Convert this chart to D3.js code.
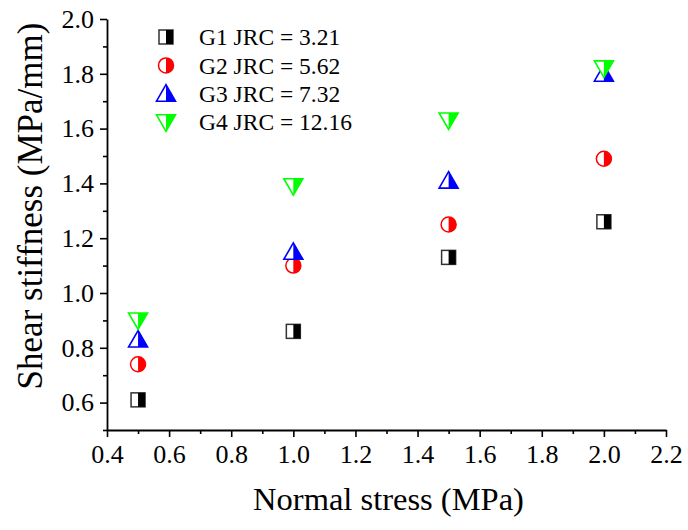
<!DOCTYPE html>
<html>
<head>
<meta charset="utf-8">
<script src="https://cdn.jsdelivr.net/npm/d3@7"></script>
<style>
  html, body { margin: 0; padding: 0; background: #fff; }
  svg { display: block; }
</style>
</head>
<body>
<svg id="chart" width="688" height="530"></svg>
<script>
// Normal stress levels (MPa)
const normalStress = [0.5, 1.0, 1.5, 2.0];

// Shear stiffness (MPa/mm) for each joint group
const seriesNames = ["G1 JRC = 3.21", "G2 JRC = 5.62", "G3 JRC = 7.32", "G4 JRC = 12.16"];
const g1 = [0.61, 0.86, 1.13, 1.26];
const g2 = [0.74, 1.10, 1.25, 1.49];
const g3 = [0.83, 1.15, 1.41, 1.80];
const g4 = [0.90, 1.39, 1.63, 1.82];

const seriesColors = ["#000000", "#ff0000", "#0000ff", "#00ff00"];
const seriesShapes = ["square", "circle", "triangleUp", "triangleDown"];

const xTicks = [0.4, 0.6, 0.8, 1.0, 1.2, 1.4, 1.6, 1.8, 2.0, 2.2];
const yTicks = [0.6, 0.8, 1.0, 1.2, 1.4, 1.6, 1.8, 2.0];

const FONT = "'Liberation Serif', serif";

const svg = d3.select("#chart");
const plotLeft = 107, plotRight = 666, plotTop = 19, plotBottom = 430;

const x = d3.scaleLinear().domain([0.4, 2.2]).range([plotLeft, plotRight]);
const y = d3.scaleLinear().domain([0.5, 2.0]).range([plotBottom, plotTop]);

// Minor ticks every 0.1
const xMinor = d3.range(0.5, 2.2, 0.2);
const yMinor = d3.range(0.5, 2.0, 0.2);

const xAxis = svg.append("g").attr("transform", `translate(0,${plotBottom})`);
xAxis.call(d3.axisBottom(x).tickValues(xMinor).tickSize(4).tickFormat(""));
xAxis.call(g => g.select(".domain").remove());
const xMajor = svg.append("g").attr("transform", `translate(0,${plotBottom})`)
  .call(d3.axisBottom(x).tickValues(xTicks).tickSize(7).tickSizeOuter(0).tickPadding(8)
    .tickFormat(d3.format(".1f")));
xMajor.attr("font-family", FONT).attr("font-size", 26);
xMajor.selectAll("text").style("font-family", FONT).style("font-size", "26px").attr("dy", "0.71em");

const yAxis = svg.append("g").attr("transform", `translate(${plotLeft},0)`);
yAxis.call(d3.axisLeft(y).tickValues(yMinor).tickSize(4).tickFormat(""));
yAxis.call(g => g.select(".domain").remove());
const yMajor = svg.append("g").attr("transform", `translate(${plotLeft},0)`)
  .call(d3.axisLeft(y).tickValues(yTicks).tickSize(7).tickSizeOuter(0).tickPadding(6)
    .tickFormat(d3.format(".1f")));
yMajor.attr("font-family", FONT).attr("font-size", 26);
yMajor.selectAll("text").style("font-family", FONT).style("font-size", "26px");

svg.selectAll(".domain, .tick line").attr("stroke", "#000").attr("stroke-width", 1.6);
svg.selectAll(".domain").attr("stroke-width", 1.8);

// Axis titles
svg.append("text")
  .attr("x", (plotLeft + plotRight) / 2 + 2)
  .attr("y", 510)
  .attr("text-anchor", "middle")
  .style("font-family", FONT)
  .style("font-size", "32.5px")
  .text("Normal stress (MPa)");

svg.append("text")
  .attr("transform", `translate(42,206) rotate(-90)`)
  .attr("text-anchor", "middle")
  .style("font-family", FONT)
  .style("font-size", "35px")
  .text("Shear stiffness (MPa/mm)");

// Half-filled marker: outline with white left half, solid right half
function drawMarker(g, shape, color) {
  const stroke = shape === "square" ? "#333" : color;
  if (shape === "square") {
    const w = 14, h = 14;
    g.append("rect").attr("x", -w / 2).attr("y", -h / 2).attr("width", w).attr("height", h)
      .attr("fill", "#fff").attr("stroke", stroke).attr("stroke-width", 1.5);
    g.append("rect").attr("x", 0).attr("y", -h / 2).attr("width", w / 2).attr("height", h)
      .attr("fill", color);
  } else if (shape === "circle") {
    const r = 7.5;
    g.append("circle").attr("r", r).attr("fill", "#fff").attr("stroke", color).attr("stroke-width", 1.5);
    g.append("path").attr("d", `M0,${-r} A${r},${r} 0 0 1 0,${r} Z`).attr("fill", color);
  } else if (shape === "triangleUp") {
    const hw = 9.5, h = 16.5;
    g.append("path").attr("d", `M0,${-h * 0.55} L${hw},${h * 0.45} L${-hw},${h * 0.45} Z`)
      .attr("fill", "#fff").attr("stroke", color).attr("stroke-width", 1.6).attr("stroke-linejoin", "miter");
    g.append("path").attr("d", `M0,${-h * 0.55} L${hw},${h * 0.45} L0,${h * 0.45} Z`)
      .attr("fill", color);
  } else {
    const hw = 9.5, h = 16.5;
    g.append("path").attr("d", `M0,${h * 0.55} L${hw},${-h * 0.45} L${-hw},${-h * 0.45} Z`)
      .attr("fill", "#fff").attr("stroke", color).attr("stroke-width", 1.6).attr("stroke-linejoin", "miter");
    g.append("path").attr("d", `M0,${h * 0.55} L${hw},${-h * 0.45} L0,${-h * 0.45} Z`)
      .attr("fill", color);
  }
}

const seriesValues = [g1, g2, g3, g4];
seriesValues.forEach((vals, i) => {
  const layer = svg.append("g");
  vals.forEach((v, j) => {
    const m = layer.append("g").attr("transform", `translate(${x(normalStress[j])},${y(v)})`);
    drawMarker(m, seriesShapes[i], seriesColors[i]);
  });
});

// Legend
const legend = svg.append("g");
seriesNames.forEach((name, i) => {
  const cy = 37 + i * 28.4;
  const m = legend.append("g").attr("transform", `translate(166,${cy})`);
  drawMarker(m, seriesShapes[i], seriesColors[i]);
  legend.append("text")
    .attr("x", 199).attr("y", cy).attr("dy", "0.35em")
    .style("font-family", FONT)
    .style("font-size", "23.5px")
    .text(name);
});
</script>
</body>
</html>
